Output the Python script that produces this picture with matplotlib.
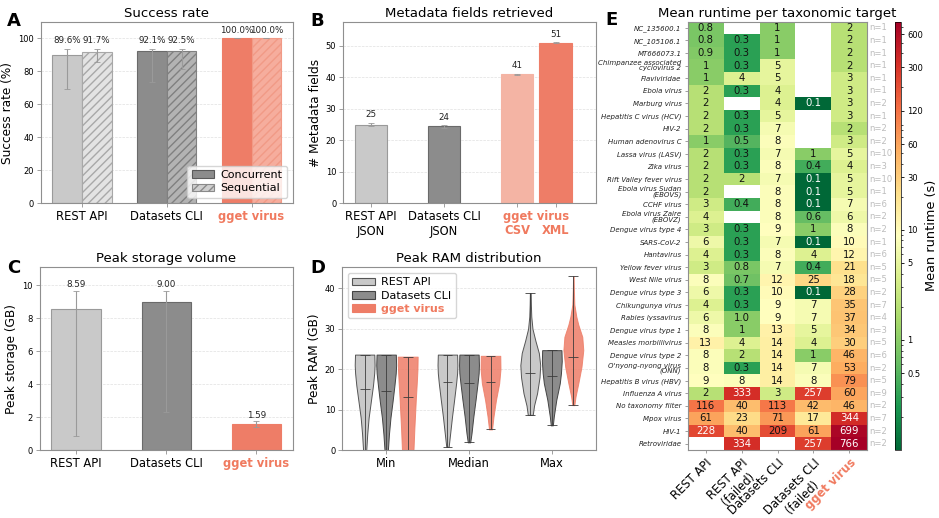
import numpy as np
import matplotlib
matplotlib.use("Agg")
import matplotlib.pyplot as plt
from matplotlib.colors import LogNorm
from matplotlib.patches import Patch

nan = np.nan

# ---------------- data ----------------
tools = ['REST API', 'Datasets CLI', 'gget virus']

succ_conc = [89.6, 92.1, 100.0]
succ_seq = [91.7, 92.5, 100.0]
succ_conc_lo = [69.4, 73.4, 100.0]
succ_conc_hi = [93.6, 93.6, 100.0]
succ_seq_lo = [85.5, 81.5, 100.0]
succ_seq_hi = [93.6, 93.6, 100.0]

meta_labels = ['REST API\nJSON', 'Datasets CLI\nJSON', 'CSV', 'XML']
meta_vals = [25.0, 24.4, 41.0, 51.0]
meta_err = [0.6, 0.4, 0.1, 0.1]
meta_pos = [0, 1, 2, 2.53]

storage_vals = [8.59, 9.00, 1.59]
storage_lo = [0.85, 2.30, 1.40]
storage_hi = [9.67, 9.67, 1.75]

ram_metrics = ['Min', 'Median', 'Max']
# violin profiles: levels (GB) and relative widths
ram_rest_y = [[0, 4, 8, 12, 16, 19, 21, 23.6],
              [0.8, 4.1, 8.3, 12.4, 16.5, 19, 21, 23.6],
              [8.7, 11, 14, 18, 21, 24, 27, 30, 33, 36, 38.8]]
ram_rest_w = [[0.16, 0.26, 0.4, 0.62, 0.84, 0.96, 1.0, 0.97],
              [0.12, 0.27, 0.46, 0.67, 0.87, 0.97, 1.0, 0.97],
              [0.25, 0.38, 0.68, 0.93, 1.0, 0.86, 0.52, 0.22, 0.1, 0.06, 0.04]]
ram_rest_med = [15.0, 16.7, 19.1]

ram_ds_y = [[0, 4, 8, 12, 16, 19, 21, 23.6],
            [1.9, 4.1, 8.3, 12.4, 16.5, 19, 21, 23.6],
            [6.1, 8.3, 12.4, 16.5, 19, 22, 24.7]]
ram_ds_w = [[0.17, 0.28, 0.43, 0.64, 0.83, 0.96, 1.0, 0.97],
            [0.12, 0.25, 0.44, 0.66, 0.86, 0.97, 1.0, 0.97],
            [0.1, 0.2, 0.45, 0.8, 0.92, 1.0, 0.97]]
ram_ds_med = [14.7, 16.5, 18.4]

ram_gg_y = [[0, 5.4, 12.8, 17, 20, 23.1],
            [5.1, 8.3, 12.4, 16.5, 20, 23.3],
            [11.1, 13.2, 16.5, 20.6, 24.7, 28, 31, 33, 36, 40, 43]]
ram_gg_w = [[0.58, 0.67, 0.82, 0.92, 0.98, 1.0],
            [0.15, 0.3, 0.55, 0.87, 1.0, 0.98],
            [0.1, 0.22, 0.5, 0.82, 1.0, 0.9, 0.5, 0.3, 0.1, 0.05, 0.03]]
ram_gg_med = [13.0, 16.8, 22.9]

taxa = ['NC_135600.1', 'NC_105106.1', 'MT666073.1',
        'Chimpanzee associated\ncyclovirus 2', 'Flaviviridae', 'Ebola virus',
        'Marburg virus', 'Hepatitis C virus (HCV)', 'HIV-2', 'Human adenovirus C',
        'Lassa virus (LASV)', 'Zika virus', 'Rift Valley fever virus',
        'Ebola virus Sudan\n(EBOVS)', 'CCHF virus', 'Ebola virus Zaire\n(EBOVZ)',
        'Dengue virus type 4', 'SARS-CoV-2', 'Hantavirus', 'Yellow fever virus',
        'West Nile virus', 'Dengue virus type 3', 'Chikungunya virus',
        'Rabies lyssavirus', 'Dengue virus type 1', 'Measles morbillivirus',
        'Dengue virus type 2', "O'nyong-nyong virus\n(ONN)",
        'Hepatitis B virus (HBV)', 'Influenza A virus', 'No taxonomy filter',
        'Mpox virus', 'HIV-1', 'Retroviridae']
hm_columns = ['REST API', 'REST API\n(failed)', 'Datasets CLI',
              'Datasets CLI\n(failed)', 'gget virus']
rt_rest = [0.8, 0.8, 0.9, 1, 1, 2, 2, 2, 2, 1, 2, 2, 2, 2, 3, 4, 3, 6, 4, 3,
           8, 6, 4, 6, 8, 13, 8, 8, 9, 2, 116, 61, 228, nan]
rt_rest_failed = [nan, 0.3, 0.3, 0.3, 4, 0.3, nan, 0.3, 0.3, 0.5, 0.3, 0.3, 2,
                  nan, 0.4, nan, 0.3, 0.3, 0.3, 0.8, 0.7, 0.3, 0.3, 0.98, 1, 4,
                  2, 0.3, 8, 333, 40, 23, 40, 334]
rt_datasets = [1, 1, 1, 5, 5, 4, 4, 5, 7, 8, 7, 8, 7, 8, 8, 8, 9, 7, 8, 7,
               12, 10, 9, 9, 13, 14, 14, 14, 14, 3, 113, 71, 209, nan]
rt_datasets_failed = [nan, nan, nan, nan, nan, nan, 0.1, nan, nan, nan, 1, 0.4,
                      0.1, 0.1, 0.1, 0.6, 1, 0.1, 4, 0.4, 25, 0.1, 7, 7, 5, 4,
                      1, 7, 8, 257, 42, 17, 61, 257]
rt_gget = [2, 2, 2, 2, 3, 3, 3, 3, 2, 3, 5, 4, 5, 5, 7, 6, 8, 10, 12, 21, 18,
           28, 35, 37, 34, 30, 46, 53, 79, 60, 46, 344, 699, 766]
n_runs = [1, 1, 1, 1, 1, 1, 2, 1, 2, 2, 10, 3, 10, 1, 6, 2, 2, 1, 6, 5, 5, 2,
          7, 4, 3, 5, 6, 2, 5, 9, 2, 7, 2, 2]
cbar_ticks = [0.5, 1, 5, 10, 30, 60, 120, 300, 600]

# ---------------- style ----------------
W, H = 939, 518
fig = plt.figure(figsize=(W / 100, H / 100), dpi=100)

GREY_L = '#c9c9c9'
GREY_D = '#8c8c8c'
TOMATO = '#ee7d67'
GTXT = '#f07a5f'
SPINE = '#8f8f8f'
TITLE_FS = 9.5
XT_FS = 8.3
YT_FS = 6
YL_FS = 8.7
VAL_FS = 6.3


def ax_px(l, t, r, b):
    return fig.add_axes([l / W, 1 - b / H, (r - l) / W, (b - t) / H])


def style_axes(ax):
    for s in ax.spines.values():
        s.set_color(SPINE)
        s.set_linewidth(0.8)
    ax.tick_params(axis='y', labelsize=YT_FS, length=3, width=0.6, color=SPINE, pad=2)
    ax.tick_params(axis='x', labelsize=XT_FS, length=3, width=0.6, color=SPINE, pad=2)
    ax.set_axisbelow(True)
    ax.yaxis.grid(True, ls='--', lw=0.5, color='#cccccc', alpha=0.6)


def gget_ticklabel(lbl):
    lbl.set_color(GTXT)
    lbl.set_fontweight('bold')


def letter(x, y, s):
    fig.text(x / W, 1 - y / H, s, fontsize=13, fontweight='bold', va='baseline', ha='left')


# ---------------- A: success rate ----------------
axA = ax_px(40.7, 21.7, 292.7, 203.3)
style_axes(axA)
x = np.arange(len(tools))
bw = 0.35
conc_colors = [GREY_L, GREY_D, TOMATO]
conc_edges = ['#9a9a9a', '#6a6a6a', TOMATO]
seq_colors = ['#e3e3e3', '#b3b3b3', '#f6ad9d']
seq_edges = ['#a8a8a8', '#808080', '#f19a86']
axA.bar(x - bw / 2, succ_conc, bw, color=conc_colors, edgecolor=conc_edges, lw=0.8)
axA.bar(x + bw / 2, succ_seq, bw, color=seq_colors, edgecolor=seq_edges, lw=0.8, hatch='////')
for xs, vals, lo, hi in [(x - bw / 2, succ_conc, succ_conc_lo, succ_conc_hi),
                         (x + bw / 2, succ_seq, succ_seq_lo, succ_seq_hi)]:
    yerr = [np.array(vals) - np.array(lo), np.array(hi) - np.array(vals)]
    axA.errorbar(xs, vals, yerr=yerr, fmt='none', ecolor='#9a9a9a', elinewidth=0.8, capsize=2, capthick=0.6)
    for xi, v, h in zip(xs, vals, hi):
        axA.annotate(f'{v:.1f}%', xy=(xi, h), xytext=(0, 2.5), textcoords='offset points',
                     ha='center', va='bottom', fontsize=VAL_FS, color='#222222')
axA.set_ylim(0, 110)
axA.set_yticks([0, 20, 40, 60, 80, 100])
axA.set_xticks(x, tools)
gget_ticklabel(axA.get_xticklabels()[2])
axA.set_ylabel('Success rate (%)', fontsize=YL_FS, labelpad=3)
axA.set_title('Success rate', fontsize=TITLE_FS, pad=3.5)
axA.legend(handles=[Patch(facecolor=GREY_D, edgecolor='#5a5a5a', lw=0.8),
                    Patch(facecolor='#cfcfcf', edgecolor='#8a8a8a', hatch='////', lw=0.8)],
           labels=['Concurrent', 'Sequential'], loc='lower right', fontsize=8,
           handlelength=2, borderpad=0.4, labelspacing=0.3, handletextpad=0.6)

# ---------------- B: metadata fields ----------------
axB = ax_px(343.3, 22, 595.7, 203.3)
style_axes(axB)
b_colors = [GREY_L, GREY_D, '#f4b4a4', TOMATO]
b_edges = ['#9a9a9a', '#6a6a6a', '#f4b4a4', TOMATO]
axB.bar(meta_pos, meta_vals, 0.45, color=b_colors, edgecolor=b_edges, lw=0.8)
axB.errorbar(meta_pos, meta_vals, yerr=meta_err, fmt='none', ecolor='#9a9a9a', elinewidth=0.8,
             capsize=2, capthick=0.6)
for xi, v, e in zip(meta_pos, meta_vals, meta_err):
    axB.annotate(f'{v:.0f}', xy=(xi, v + e), xytext=(0, 2.5), textcoords='offset points',
                 ha='center', va='bottom', fontsize=VAL_FS, color='#222222')
axB.set_xlim(-0.38, 3.08)
axB.set_ylim(0, 57.6)
axB.set_yticks([0, 10, 20, 30, 40, 50])
axB.set_xticks(meta_pos, meta_labels[:2] + ['', ''])
line_h = XT_FS * 1.2
axB.annotate('gget virus', xy=((meta_pos[2] + meta_pos[3]) / 2, 0),
             xycoords=('data', 'axes fraction'), xytext=(0, -5),
             textcoords='offset points', ha='center', va='top', fontsize=XT_FS,
             color=GTXT, fontweight='bold')
for xi, lab in zip(meta_pos[2:], meta_labels[2:]):
    axB.annotate(lab, xy=(xi, 0), xycoords=('data', 'axes fraction'),
                 xytext=(0, -5 - line_h), textcoords='offset points', ha='center', va='top',
                 fontsize=XT_FS, color=GTXT, fontweight='bold')
axB.set_ylabel('# Metadata fields', fontsize=YL_FS, labelpad=3)
axB.set_title('Metadata fields retrieved', fontsize=TITLE_FS, pad=3.5)

# ---------------- C: peak storage ----------------
axC = ax_px(40, 267.3, 292.7, 450)
style_axes(axC)
axC.bar(x, storage_vals, 0.55, color=conc_colors, edgecolor=conc_edges, lw=0.8)
yerr = [np.array(storage_vals) - np.array(storage_lo), np.array(storage_hi) - np.array(storage_vals)]
axC.errorbar(x, storage_vals, yerr=yerr, fmt='none', ecolor='#9a9a9a', elinewidth=0.8,
             capsize=2, capthick=0.6)
for xi, v, h in zip(x, storage_vals, storage_hi):
    axC.annotate(f'{v:.2f}', xy=(xi, h), xytext=(0, 1.0), textcoords='offset points',
                 ha='center', va='bottom', fontsize=VAL_FS, color='#222222')
axC.set_ylim(0, 11.1)
axC.set_yticks([0, 2, 4, 6, 8, 10])
axC.set_xticks(x, tools)
gget_ticklabel(axC.get_xticklabels()[2])
axC.set_ylabel('Peak storage (GB)', fontsize=YL_FS, labelpad=3)
axC.set_title('Peak storage volume', fontsize=TITLE_FS, pad=3.5)

# ---------------- D: peak RAM violins ----------------
axD = ax_px(342.3, 267.3, 595.7, 450)
style_axes(axD)
offs = [-0.26, 0.0, 0.26]
tool_profiles = [(ram_rest_y, ram_rest_w, ram_rest_med, GREY_L, '#555555', 1.0),
                 (ram_ds_y, ram_ds_w, ram_ds_med, GREY_D, '#444444', 1.0),
                 (ram_gg_y, ram_gg_w, ram_gg_med, TOMATO, TOMATO, 0.85)]
for k, (ys, ws, meds, fc, ec, al) in enumerate(tool_profiles):
    stats = []
    for yy, ww, md in zip(ys, ws, meds):
        stats.append(dict(coords=np.array(yy, float), vals=np.array(ww, float),
                          mean=md, median=md, min=yy[0], max=yy[-1]))
    parts = axD.violin(stats, positions=np.arange(3) + offs[k], widths=0.24,
                       showmedians=True, showextrema=True)
    for body in parts['bodies']:
        body.set_facecolor(fc)
        body.set_edgecolor(ec)
        body.set_alpha(al)
        body.set_linewidth(0.7)
    for key in ['cbars', 'cmins', 'cmaxes', 'cmedians']:
        parts[key].set_color('#3a3a3a')
        parts[key].set_linewidth(0.7)
        parts[key].set_alpha(0.85)
axD.set_xlim(-0.53, 2.53)
axD.set_ylim(0, 45.2)
axD.set_yticks([0, 10, 20, 30, 40])
axD.set_xticks(np.arange(3), ram_metrics)
axD.set_ylabel('Peak RAM (GB)', fontsize=YL_FS, labelpad=3)
axD.set_title('Peak RAM distribution', fontsize=TITLE_FS, pad=3.5)
leg = axD.legend(handles=[Patch(facecolor=GREY_L, edgecolor='#555555', lw=0.8),
                          Patch(facecolor=GREY_D, edgecolor='#444444', lw=0.8),
                          Patch(facecolor=TOMATO, edgecolor=TOMATO, lw=0.8)],
                 labels=tools, loc='upper left', fontsize=8, handlelength=2,
                 borderpad=0.4, labelspacing=0.3, handletextpad=0.6)
leg.get_texts()[2].set_color(GTXT)
leg.get_texts()[2].set_fontweight('bold')

# ---------------- E: heatmap ----------------
axE = ax_px(687.7, 21.5, 867.3, 450)
data = np.array([rt_rest, rt_rest_failed, rt_datasets, rt_datasets_failed, rt_gget], float).T
norm = LogNorm(vmin=0.1, vmax=780)
mesh = axE.pcolormesh(np.ma.masked_invalid(data), cmap='RdYlGn_r', norm=norm)
nr, nc = data.shape
axE.set_xlim(0, nc)
axE.set_ylim(nr, 0)
for i in range(nr):
    for j in range(nc):
        v = data[i, j]
        if np.isnan(v):
            continue
        s = f'{v:.1f}' if v < 1 else f'{v:.0f}'
        col = 'white' if (v <= 0.15 or v >= 220) else '#111111'
        axE.text(j + 0.5, i + 0.5, s, ha='center', va='center', fontsize=7.3, color=col)
    axE.text(nc + 0.05, i + 0.5, f'n={n_runs[i]}', ha='left', va='center', fontsize=6.1,
             color='#bdbdbd', clip_on=False)
axE.set_yticks(np.arange(nr) + 0.5)
axE.set_yticklabels(taxa, fontsize=5, style='italic', color='#222222', linespacing=0.85)
axE.set_xticks(np.arange(nc) + 0.5)
axE.set_xticklabels(hm_columns, fontsize=XT_FS, rotation=45, ha='right', rotation_mode='anchor')
for lbl in axE.get_xticklabels():
    lbl.set_multialignment('center')
gget_ticklabel(axE.get_xticklabels()[4])
axE.tick_params(axis='both', length=2.5, width=0.6, color=SPINE, pad=2)
for s in axE.spines.values():
    s.set_color(SPINE)
    s.set_linewidth(0.8)
axE.set_title('Mean runtime per taxonomic target', fontsize=TITLE_FS, pad=3)

cax = ax_px(895, 21.5, 901, 450)
cb = fig.colorbar(mesh, cax=cax)
cb.set_ticks(cbar_ticks)
cb.set_ticklabels([f'{t:g}' for t in cbar_ticks])
cb.ax.tick_params(labelsize=6, length=2.5, width=0.6, pad=2)
cb.ax.tick_params(which='minor', length=1.5, width=0.5)
cb.outline.set_linewidth(0.5)
cb.set_label('Mean runtime (s)', fontsize=9.3, labelpad=1)

# panel letters
letter(7, 26, 'A')
letter(310, 26, 'B')
letter(7, 273, 'C')
letter(310, 273, 'D')
letter(605, 25, 'E')

fig.savefig('out.png', dpi=100)
